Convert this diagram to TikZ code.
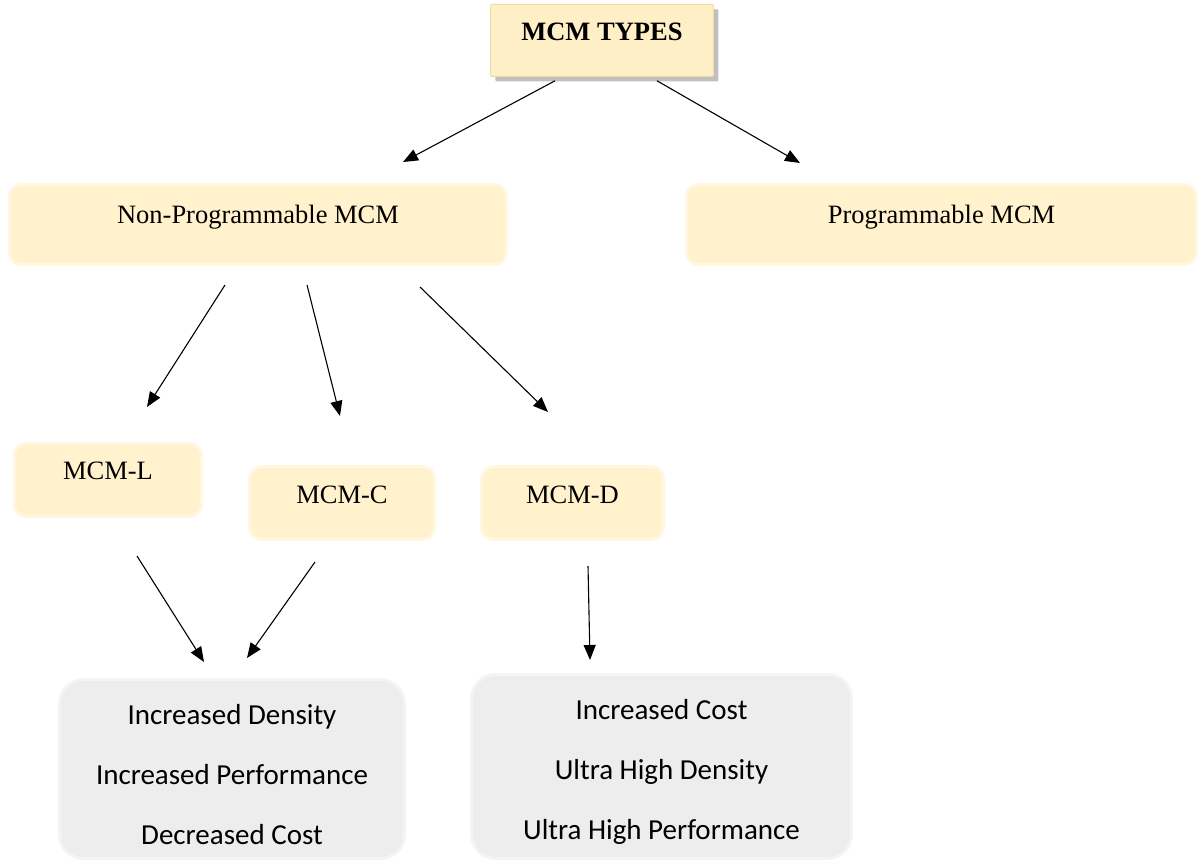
\documentclass[tikz,border=0pt]{standalone}
\usepackage{fontspec}
\setmainfont{Liberation Serif}
\newfontfamily\calibri{Carlito}
\usetikzlibrary{arrows.meta,calc,shadows}
\definecolor{paleyellow}{HTML}{FFF2CC}
\definecolor{paleyellowedge}{HTML}{FFF7E2}
\definecolor{titlefill}{HTML}{FFEFC6}
\definecolor{titleedge}{HTML}{F0DBA6}
\definecolor{palegray}{HTML}{EDEDED}
\definecolor{palegrayedge}{HTML}{F4F4F4}
\begin{document}
\begin{tikzpicture}[x=1pt,y=-1pt,
  ybox/.style={anchor=north west, inner sep=0pt, rounded corners=12pt,
    fill=paleyellow, draw=paleyellowedge, line width=3pt,
    font=\fontsize{26.5}{30}\selectfont},
  gbox/.style={anchor=north west, inner sep=0pt, rounded corners=24pt,
    fill=palegray, draw=palegrayedge, line width=3pt,
    font=\calibri\fontsize{29}{60}\selectfont},
  arr/.style={line width=1.1pt, -{Triangle[length=15pt,width=12pt]}}]
\useasboundingbox (0,0) rectangle (1198,861);

% title
\node[ybox, font=\bfseries\fontsize{26.5}{30}\selectfont, fill=titlefill,
  draw=titleedge, line width=0.8pt, rounded corners=1pt,
  drop shadow={shadow xshift=5pt, shadow yshift=-5pt, fill=black!45, opacity=0.55},
  minimum width=223pt, text height=36pt, text depth=36pt] (top) at (490,4) {MCM TYPES};

% first level
\node[ybox, minimum width=497pt, text height=39pt, text depth=41pt] (np) at (8,183) {Non-Programmable MCM};
\node[ybox, minimum width=510pt, text height=39pt, text depth=41pt] (prog) at (685,183) {Programmable MCM};

% second level
\node[ybox, minimum width=187pt, text height=36pt, text depth=37pt] (mcml) at (13,442) {MCM-L};
\node[ybox, minimum width=185pt, text height=37pt, text depth=36pt] (mcmc) at (248,465) {MCM-C};
\node[ybox, minimum width=182pt, text height=37pt, text depth=36pt] (mcmd) at (480,465) {MCM-D};

% properties
\node[gbox, minimum width=345pt, text height=45pt, text depth=134pt] (lb) at (58,678)
  {\begin{tabular}[t]{@{}c@{}}Increased Density\\ Increased Performance\\ Decreased Cost\end{tabular}};
\node[gbox, minimum width=380pt, text height=45pt, text depth=139pt] (rb) at (470,673)
  {\begin{tabular}[t]{@{}c@{}}Increased Cost\\ Ultra High Density\\ Ultra High Performance\end{tabular}};

% connectors
\draw[arr] ($(top.south west)+(65,4)$) -- ($(np.north west)+(395,-21)$);
\draw[arr] ($(top.south west)+(167,4)$) -- ($(prog.north west)+(115,-20)$);
\draw[arr] ($(np.south west)+(217,19)$) -- ($(mcml.north west)+(134,-35)$);
\draw[arr] ($(np.south west)+(299,19)$) -- ($(mcmc.north west)+(92,-49)$);
\draw[arr] ($(np.south west)+(412,21)$) -- ($(mcmd.north west)+(68,-53)$);
\draw[arr] ($(mcml.south west)+(124,38)$) -- ($(lb.north west)+(146,-16)$);
\draw[arr] ($(mcmc.south west)+(67,21)$) -- ($(lb.north west)+(189,-20)$);
\draw[arr] ($(mcmd.south west)+(108,25)$) -- ($(rb.north west)+(120,-13)$);
\end{tikzpicture}
\end{document}
